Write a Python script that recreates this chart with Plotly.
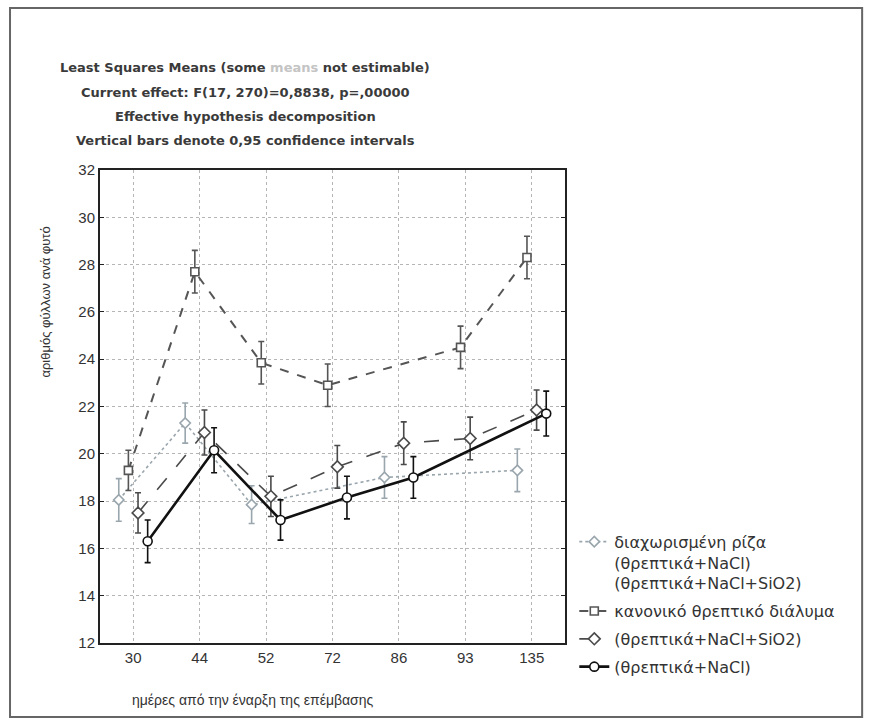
import plotly.graph_objects as go

# Sampling days (category axis)
days = ["30", "44", "52", "72", "86", "93", "135"]

# Least-squares means of leaves per plant; None = mean not estimable
split_root = [18.05, 21.3, 17.85, None, 19.0, None, 19.3]
split_root_ci = [0.9, 0.85, 0.8, None, 0.88, None, 0.9]

normal_solution = [19.3, 27.7, 23.85, 22.9, None, 24.5, 28.3]
normal_solution_ci = [0.85, 0.9, 0.9, 0.9, None, 0.9, 0.9]

nacl_sio2 = [17.5, 20.9, 18.2, 19.45, 20.45, 20.65, 21.85]
nacl_sio2_ci = [0.85, 0.95, 0.85, 0.9, 0.9, 0.9, 0.85]

nacl = [16.3, 20.15, 17.2, 18.15, 19.0, None, 21.7]
nacl_ci = [0.9, 0.95, 0.85, 0.9, 0.88, None, 0.95]

series_names = [
    "διαχωρισμένη ρίζα<br>(θρεπτικά+NaCl)<br>(θρεπτικά+NaCl+SiO2)",
    "κανονικό θρεπτικό διάλυμα",
    "(θρεπτικά+NaCl+SiO2)",
    "(θρεπτικά+NaCl)",
]

title_lines = [
    "Least Squares Means (some <span style='color:#c4c4c4'>means</span> not estimable)",
    "Current effect: F(17, 270)=0,8838, p=,00000",
    "Effective hypothesis decomposition",
    "Vertical bars denote 0,95 confidence intervals",
]

y_title = "αριθμός φύλλων ανά φυτό"
x_title = "ημέρες από την έναρξη της επέμβασης"

styles = [
    dict(color="#9aa6ad", dash="dot", width=1.6, symbol="diamond", size=8),
    dict(color="#555555", dash="dash", width=2.0, symbol="square", size=8),
    dict(color="#4a4a4a", dash="longdash", width=1.6, symbol="diamond", size=9),
    dict(color="#111111", dash="solid", width=2.6, symbol="circle", size=9),
]

data = [
    (split_root, split_root_ci),
    (normal_solution, normal_solution_ci),
    (nacl_sio2, nacl_sio2_ci),
    (nacl, nacl_ci),
]

fig = go.Figure()
for i, (name, (vals, ci), st) in enumerate(zip(series_names, data, styles)):
    fig.add_trace(go.Scatter(
        x=days, y=vals, name=name, legendgroup=f"g{i}",
        mode="lines+markers",
        connectgaps=True,
        line=dict(color=st["color"], dash=st["dash"], width=st["width"]),
        marker=dict(symbol=st["symbol"], size=st["size"], color="white",
                    line=dict(color=st["color"], width=1.6)),
        error_y=dict(type="data", array=ci, visible=True,
                     color=st["color"], thickness=1.6, width=3),
    ))

font_family = "DejaVu Sans, Verdana, sans-serif"
tick_family = "Liberation Sans, Arial, sans-serif"

annotations = []
title_y = [1.216, 1.163, 1.114, 1.063]
for line, yy in zip(title_lines, title_y):
    annotations.append(dict(
        text="<b>" + line + "</b>", x=0.312, y=yy, xref="paper", yref="paper",
        showarrow=False, xanchor="center", yanchor="middle",
        font=dict(size=13, color="#3a3a3a", family=font_family),
    ))
annotations.append(dict(
    text=y_title, x=-0.118, y=0.72, xref="paper", yref="paper",
    showarrow=False, textangle=-90, xanchor="center", yanchor="middle",
    font=dict(size=13, color="#333333", family=tick_family),
))
annotations.append(dict(
    text=x_title, x=0.33, y=-0.12, xref="paper", yref="paper",
    showarrow=False, xanchor="center", yanchor="middle",
    font=dict(size=14, color="#333333", family=tick_family),
))

fig.update_layout(
    width=873, height=725,
    margin=dict(l=100, r=308, t=170, b=82),
    paper_bgcolor="white", plot_bgcolor="white",
    scattermode="group", scattergap=0.42,
    showlegend=True,
    legend=dict(
        x=1.02, y=0.25, xanchor="left", yanchor="top",
        font=dict(size=16, color="#333333", family=font_family),
        bgcolor="rgba(0,0,0,0)", valign="top",
        tracegroupgap=4, itemwidth=30,
    ),
    annotations=annotations,
    shapes=[dict(
        type="rect", xref="paper", yref="paper",
        x0=-0.1935, x1=1.639, y0=-0.1564, y1=1.3425,
        line=dict(color="#666666", width=2), layer="below",
    )],
)

fig.update_xaxes(
    type="category", range=[-0.5, 6.5],
    showline=True, linecolor="#222222", linewidth=2, mirror=True,
    showgrid=True, gridcolor="#b5b5b5", griddash="dot", gridwidth=1,
    ticks="", tickfont=dict(size=15, color="#333333", family=tick_family),
)
fig.update_yaxes(
    range=[12, 32], dtick=2,
    showline=True, linecolor="#222222", linewidth=2, mirror="ticks",
    showgrid=True, gridcolor="#b5b5b5", griddash="dot", gridwidth=1,
    ticks="inside", ticklen=4, tickcolor="#222222",
    zeroline=False,
    tickfont=dict(size=15, color="#333333", family=tick_family),
)

fig.write_html("out.html")
